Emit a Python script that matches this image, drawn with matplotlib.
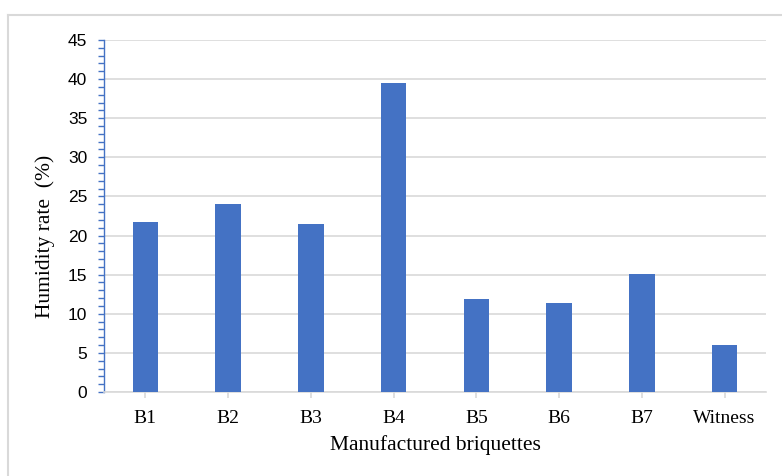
import matplotlib
matplotlib.use('Agg')
import matplotlib.pyplot as plt
from matplotlib.ticker import MultipleLocator
from matplotlib.lines import Line2D
import numpy as np

###############################################################
# data
###############################################################
briquettes = ['B1', 'B2', 'B3', 'B4', 'B5', 'B6', 'B7', 'Witness']
humidity = [21.75, 24.0, 21.45, 39.55, 11.85, 11.4, 15.05, 6.0]

bar_color = '#4472C4'
grid_color = '#d9d9d9'
serif = 'Liberation Serif'
sans = 'Liberation Sans'

###############################################################
# figure
###############################################################
fig = plt.figure(figsize=(7.82, 4.76), dpi=100)
ax = fig.add_axes([0.133, 0.1765, 0.8465, 0.7395])

x = np.arange(len(briquettes))
ax.bar(x, humidity, width=0.31, color=bar_color, zorder=3)

ax.set_xlim(-0.5, len(briquettes) - 0.5)
ax.set_ylim(0, 45)
ax.yaxis.set_major_locator(MultipleLocator(5))
ax.yaxis.set_minor_locator(MultipleLocator(1))
ax.grid(axis='y', color=grid_color, linewidth=1.2, zorder=0)

for side in ['top', 'right']:
    ax.spines[side].set_visible(False)
ax.spines['left'].set_color(bar_color)
ax.spines['left'].set_linewidth(1.0)
ax.spines['bottom'].set_color(grid_color)
ax.spines['bottom'].set_linewidth(1.2)

ax.tick_params(axis='y', which='both', direction='out', color=bar_color,
               length=4, width=1.0, labelsize=12.5, pad=8)
ax.tick_params(axis='x', direction='out', color=grid_color, length=4,
               width=1.2, pad=9)

ax.set_xticks(x)
ax.set_xticklabels(briquettes, fontfamily=serif, fontsize=14)
for lbl in ax.get_yticklabels():
    lbl.set_fontfamily(sans)

ax.set_xlabel('Manufactured briquettes', fontfamily=serif, fontsize=15.5,
              labelpad=6)
ax.set_ylabel('Humidity rate  (%)', fontfamily=serif, fontsize=15.5,
              labelpad=9)
# y label sits a little below the middle of the axis
ax.yaxis.label.set_y(0.443)

# chart area border
fig.add_artist(Line2D([8 / 782, 8 / 782], [0, 1 - 15 / 476],
                      transform=fig.transFigure, color=grid_color, lw=1.5))
fig.add_artist(Line2D([8 / 782, 1], [1 - 15 / 476, 1 - 15 / 476],
                      transform=fig.transFigure, color=grid_color, lw=1.5))

fig.savefig('out.png', dpi=100)
